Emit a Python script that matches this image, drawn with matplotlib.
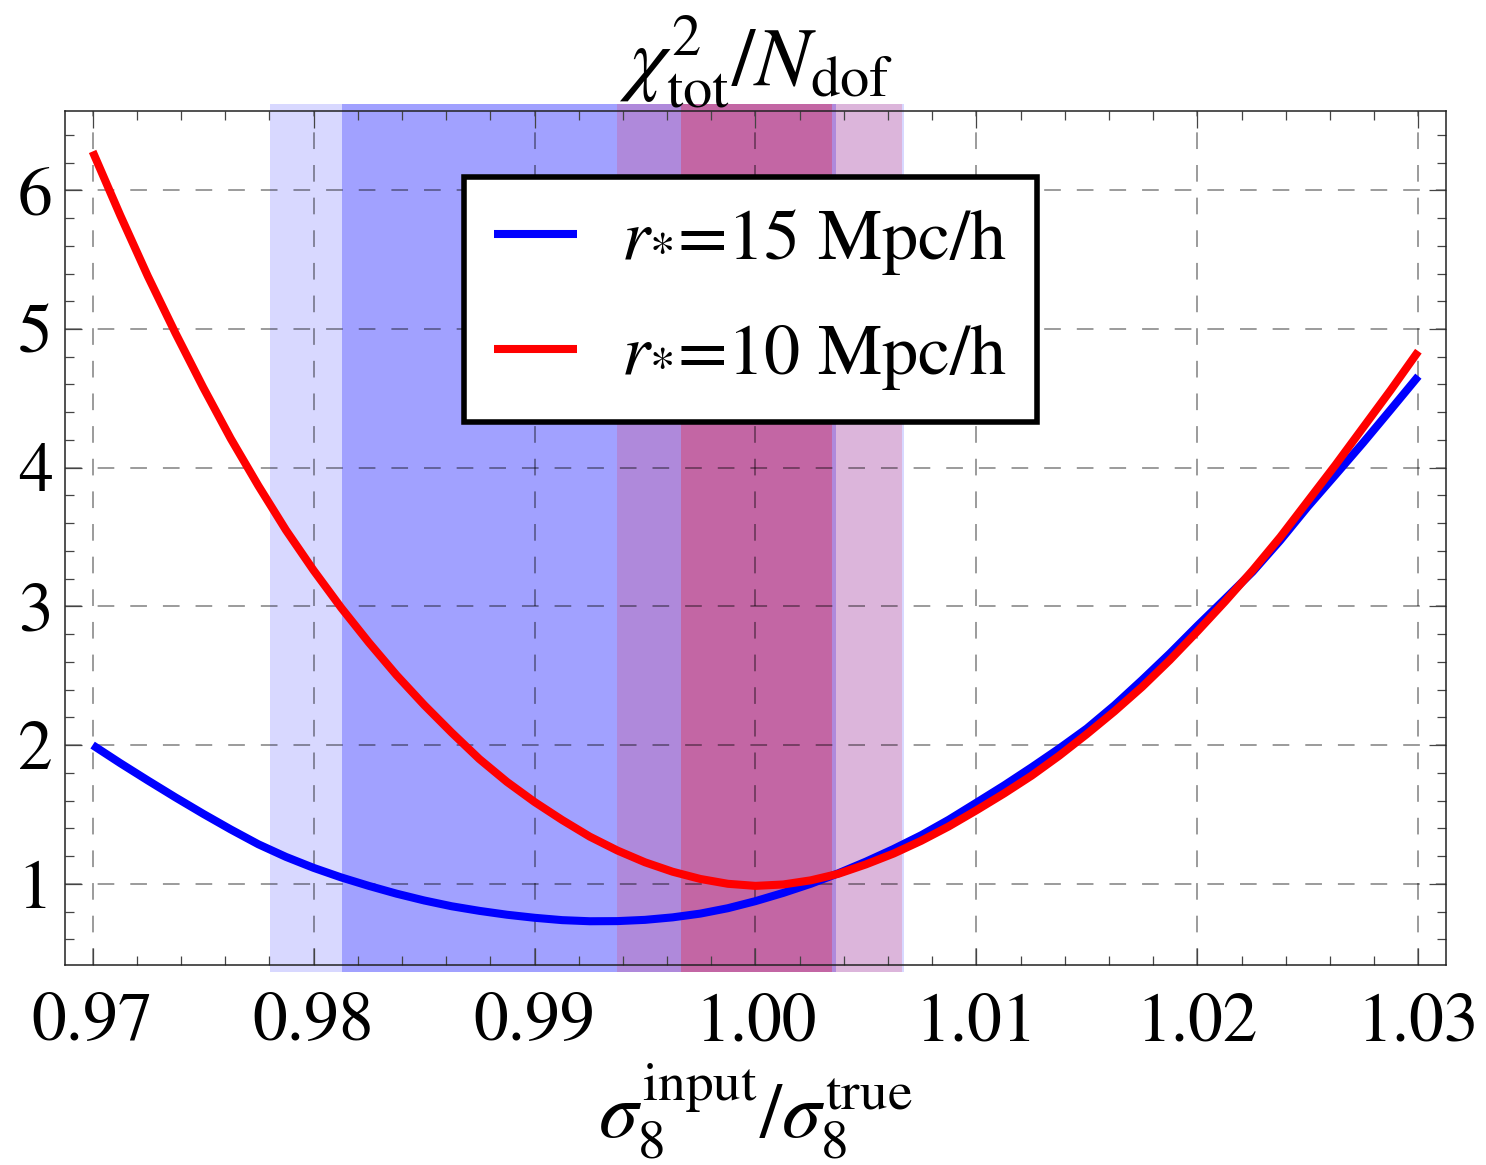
import matplotlib
matplotlib.use("Agg")
import matplotlib.pyplot as plt
from matplotlib.ticker import MultipleLocator

# ---------------- data ----------------
sigma_ratio = [0.97000, 0.97125, 0.97250, 0.97375, 0.97500, 0.97625, 0.97750,
               0.97875, 0.98000, 0.98125, 0.98250, 0.98375, 0.98500, 0.98625,
               0.98750, 0.98875, 0.99000, 0.99125, 0.99250, 0.99375, 0.99500,
               0.99625, 0.99750, 0.99875, 1.00000, 1.00125, 1.00250, 1.00375,
               1.00500, 1.00625, 1.00750, 1.00875, 1.01000, 1.01125, 1.01250,
               1.01375, 1.01500, 1.01625, 1.01750, 1.01875, 1.02000, 1.02125,
               1.02250, 1.02375, 1.02500, 1.02625, 1.02750, 1.02875, 1.03000]

chi2_r15 = [2.000, 1.870, 1.745, 1.623, 1.505, 1.392, 1.285,
            1.194, 1.115, 1.046, 0.985, 0.929, 0.880, 0.838,
            0.805, 0.777, 0.755, 0.738, 0.730, 0.731, 0.740,
            0.758, 0.785, 0.824, 0.875, 0.934, 1.000, 1.076,
            1.160, 1.251, 1.350, 1.462, 1.585, 1.709, 1.840,
            1.976, 2.120, 2.287, 2.470, 2.660, 2.860, 3.054,
            3.250, 3.476, 3.720, 3.949, 4.180, 4.419, 4.660]

chi2_r10 = [6.280, 5.820, 5.380, 4.970, 4.580, 4.210, 3.870,
            3.550, 3.260, 2.990, 2.740, 2.505, 2.290, 2.090,
            1.900, 1.735, 1.590, 1.460, 1.340, 1.240, 1.155,
            1.087, 1.035, 1.000, 0.985, 0.995, 1.025, 1.072,
            1.140, 1.218, 1.310, 1.414, 1.530, 1.651, 1.780,
            1.924, 2.080, 2.244, 2.420, 2.613, 2.820, 3.035,
            3.260, 3.500, 3.760, 4.020, 4.290, 4.560, 4.840]

# confidence bands (lo, hi)
band_r15_2sig = (0.97802, 1.00672)
band_r15_1sig = (0.98128, 1.00364)
band_r10_2sig = (0.99373, 1.00663)
band_r10_1sig = (0.99663, 1.00346)

labels = [r"$r_{*}$=15 Mpc/h", r"$r_{*}$=10 Mpc/h"]
xticks = [0.97, 0.98, 0.99, 1.00, 1.01, 1.02, 1.03]
xtick_labels = ["0.97", "0.98", "0.99", "1.00", "1.01", "1.02", "1.03"]
yticks = [1, 2, 3, 4, 5, 6]
ytick_labels = ["1", "2", "3", "4", "5", "6"]

# ---------------- style ----------------
plt.rcParams["font.family"] = ["STIXGeneral", "DejaVu Serif"]
plt.rcParams["mathtext.fontset"] = "stix"
plt.rcParams["lines.scale_dashes"] = False

fig = plt.figure(figsize=(14.86, 11.65), dpi=100)
ax = fig.add_axes([0.04374, 0.17167, 0.92934, 0.73305])

# bands (slightly overhang the frame, like the original)
ov = 0.008
ax.axvspan(*band_r15_2sig, ymin=-ov, ymax=1 + ov, color="#0000ff", alpha=0.153,
           lw=0, clip_on=False, zorder=1)
ax.axvspan(*band_r15_1sig, ymin=-ov, ymax=1 + ov, color="#0000ff", alpha=0.25,
           lw=0, clip_on=False, zorder=1)
ax.axvspan(*band_r10_2sig, ymin=-ov, ymax=1 + ov, color="#ee2244", alpha=0.19,
           lw=0, clip_on=False, zorder=1)
ax.axvspan(*band_r10_1sig, ymin=-ov, ymax=1 + ov, color="#ff0000", alpha=0.25,
           lw=0, clip_on=False, zorder=1)

ax.plot(sigma_ratio, chi2_r15, color="#0000ff", lw=5.8, solid_capstyle="butt",
        solid_joinstyle="round", label=labels[0], zorder=3)
ax.plot(sigma_ratio, chi2_r10, color="#ff0000", lw=5.8, solid_capstyle="butt",
        solid_joinstyle="round", label=labels[1], zorder=3)

ax.set_xlim(0.96875, 1.03125)
ax.set_ylim(0.4145, 6.5717)

ax.set_xticks(xticks)
ax.set_xticklabels(xtick_labels)
ax.set_yticks(yticks)
ax.set_yticklabels(ytick_labels)
ax.xaxis.set_minor_locator(MultipleLocator(0.002))
ax.yaxis.set_minor_locator(MultipleLocator(0.2))

ax.tick_params(which="both", direction="in", top=True, right=True,
               color="#444444", width=0.9)
ax.tick_params(which="major", length=12)
ax.tick_params(which="minor", length=6.5)
ax.tick_params(axis="x", which="major", labelsize=50, pad=20)
ax.tick_params(axis="y", which="major", labelsize=50, pad=9)

for sp in ax.spines.values():
    sp.set_linewidth(1.1)
    sp.set_color("#222222")

ax.set_axisbelow("line")
ax.grid(True, which="major", color="black", alpha=0.5, lw=1.1,
        linestyle=(0, (12, 11.5)))

ax.set_title(r"$\chi^2_{\rm tot}/N_{\rm dof}$", fontsize=60, pad=1)
# x label placed by figure coordinates so its subscripts stay inside the canvas
fig.text(0.508, 0.003, r"$\sigma_8^{\rm input}/\sigma_8^{\rm true}$",
         fontsize=57, ha="center", va="bottom")

leg = ax.legend(loc="upper left", bbox_to_anchor=(0.289, 0.923),
                borderaxespad=0, fontsize=52, handlelength=1.15,
                handletextpad=0.6, labelspacing=0.62, borderpad=0.42,
                fancybox=False, framealpha=1, edgecolor="black")
leg.get_frame().set_linewidth(4)
leg.set_zorder(5)

fig.savefig("out.png", dpi=100)
